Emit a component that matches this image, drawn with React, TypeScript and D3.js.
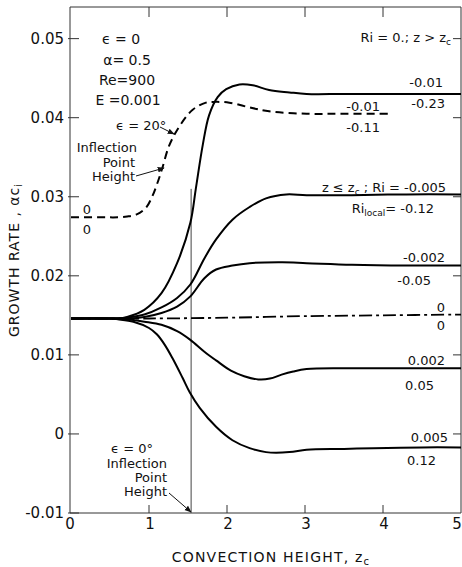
import React from "react";
import * as d3 from "d3";

// ---------- data ----------
const xTicks = [0, 1, 2, 3, 4, 5];
const yTicks = [-0.01, 0, 0.01, 0.02, 0.03, 0.04, 0.05];
const yTickLabels = ["-0.01", "0", "0.01", "0.02", "0.03", "0.04", "0.05"];

// Ri = -0.01 (Ri_local -0.23), solid
const riM010X = [0, 0.5, 0.6, 0.72, 0.94, 1.16, 1.36, 1.53, 1.6, 1.69, 1.77, 1.88, 1.99, 2.16, 2.33, 2.54, 2.8, 3.02, 3.5, 4.2, 5];
const riM010Y = [0.0146, 0.0146, 0.0146, 0.0148, 0.0157, 0.0178, 0.0216, 0.0267, 0.031, 0.0366, 0.0403, 0.0426, 0.0436, 0.0442, 0.0441, 0.0435, 0.0432, 0.043, 0.043, 0.043, 0.043];

// epsilon = 20 deg, Ri = -0.01 (Ri_local -0.11), dashed
const eps20X = [0, 0.4, 0.6, 0.72, 0.85, 0.96, 1.04, 1.11, 1.17, 1.26, 1.39, 1.56, 1.73, 1.85, 2.03, 2.29, 2.54, 3.02, 3.5, 4.09];
const eps20Y = [0.0274, 0.0274, 0.0274, 0.0275, 0.0278, 0.0286, 0.03, 0.0318, 0.0336, 0.0365, 0.0389, 0.041, 0.0419, 0.042, 0.0419, 0.0413, 0.0408, 0.0405, 0.0405, 0.0405];

// Ri = -0.005 (Ri_local -0.12), solid
const riM005X = [0, 0.5, 0.6, 0.72, 0.94, 1.16, 1.36, 1.53, 1.71, 1.86, 2.07, 2.29, 2.5, 2.76, 3.02, 3.6, 4.3, 5];
const riM005Y = [0.0146, 0.0146, 0.0146, 0.0147, 0.0151, 0.016, 0.0172, 0.0189, 0.0222, 0.0246, 0.0271, 0.0287, 0.0298, 0.0303, 0.0302, 0.0302, 0.0303, 0.0303];

// Ri = -0.002 (Ri_local -0.05), solid
const riM002X = [0, 0.5, 0.6, 0.72, 0.94, 1.16, 1.36, 1.53, 1.71, 1.86, 2.07, 2.29, 2.71, 3.02, 3.6, 4.3, 5];
const riM002Y = [0.0146, 0.0146, 0.0146, 0.0146, 0.0148, 0.0153, 0.0161, 0.0174, 0.0197, 0.0208, 0.0213, 0.0216, 0.0217, 0.0216, 0.0214, 0.0213, 0.0213];

// Ri = 0, dash-dot
const ri0X = [0, 1, 2, 2.5, 3, 4, 5];
const ri0Y = [0.0146, 0.0146, 0.0147, 0.0148, 0.0149, 0.015, 0.0151];

// Ri = 0.002 (Ri_local 0.05), solid
const riP002X = [0, 0.5, 0.6, 0.72, 0.94, 1.16, 1.36, 1.53, 1.71, 1.86, 2.05, 2.22, 2.4, 2.55, 2.7, 2.85, 3.02, 3.5, 4.3, 5];
const riP002Y = [0.0146, 0.0146, 0.0146, 0.0145, 0.0142, 0.0138, 0.013, 0.0119, 0.0104, 0.0093, 0.008, 0.0073, 0.0069, 0.007, 0.0075, 0.0079, 0.0082, 0.0083, 0.0083, 0.0083];

// Ri = 0.005 (Ri_local 0.12), solid
const riP005X = [0, 0.5, 0.6, 0.8, 1.0, 1.1, 1.2, 1.3, 1.43, 1.52, 1.65, 1.86, 2.07, 2.29, 2.5, 2.8, 3.02, 3.5, 3.88, 4.5, 5];
const riP005Y = [0.0146, 0.0146, 0.0145, 0.0142, 0.0134, 0.0126, 0.0113, 0.0096, 0.0071, 0.0053, 0.0033, 0.0009, -0.0008, -0.0018, -0.0023, -0.0023, -0.002, -0.0019, -0.0018, -0.0017, -0.0017];

// inflection point height (epsilon = 0)
const inflX = [1.54, 1.54];
const inflY = [0.031, -0.01];

const FONT = "'DejaVu Sans', sans-serif";

export default function App() {
  const W = 462;
  const H = 567;
  const x = d3.scaleLinear().domain([0, 5]).range([71, 461]);
  const y = d3.scaleLinear().domain([-0.01, 0.054]).range([513, 7]);

  const mk = (xs: number[], ys: number[]) =>
    d3
      .line<number>()
      .x((_, i) => x(xs[i]))
      .y((v) => y(v))
      .curve(d3.curveCatmullRom.alpha(0.5))(ys) as string;

  const series = [
    { xs: riM010X, ys: riM010Y, dash: undefined as string | undefined, w: 2 },
    { xs: eps20X, ys: eps20Y, dash: "8,5", w: 2 },
    { xs: riM005X, ys: riM005Y, dash: undefined, w: 2 },
    { xs: riM002X, ys: riM002Y, dash: undefined, w: 2 },
    { xs: ri0X, ys: ri0Y, dash: "13,4,3,4", w: 1.8 },
    { xs: riP002X, ys: riP002Y, dash: undefined, w: 2 },
    { xs: riP005X, ys: riP005Y, dash: undefined, w: 2 },
  ];

  const [x0, x1] = x.range();
  const [yB, yT] = y.range();
  const inner = [1, 2, 3, 4];

  const txt = { fontFamily: FONT, fontSize: 13, fill: "#111" } as const;

  return (
    <svg width={W} height={H} style={{ position: "absolute", left: 0, top: 0 }}>
      <rect width={W} height={H} fill="#fff" />
      <defs>
        <marker id="arr" viewBox="0 0 10 10" refX="9" refY="5" markerWidth="7" markerHeight="7" orient="auto">
          <path d="M0,1 L10,5 L0,9 z" fill="#111" />
        </marker>
      </defs>

      {/* frame */}
      <g stroke="#333" strokeWidth={1} fill="none">
        <line x1={x0 - 1} y1={yT} x2={x0 - 1} y2={yB} />
        <line x1={x0 - 1} y1={yT} x2={x1} y2={yT} />
        <line x1={x1} y1={yT} x2={x1} y2={yB} />
        <line x1={x0 - 1} y1={yB} x2={x1} y2={yB} />
        {yTicks.map((t) => (
          <line key={"l" + t} x1={x0 - 3} x2={x0 + 8} y1={y(t)} y2={y(t)} />
        ))}
        {yTicks.filter((t) => t > -0.01).map((t) => (
          <line key={"r" + t} x1={x1 - 8} x2={x1} y1={y(t)} y2={y(t)} />
        ))}
        {inner.map((t) => (
          <line key={"t" + t} x1={x(t)} x2={x(t)} y1={yT} y2={yT + 10} />
        ))}
        {inner.map((t) => (
          <line key={"b" + t} x1={x(t)} x2={x(t)} y1={yB} y2={yB - 8} />
        ))}
      </g>

      {/* tick labels */}
      <g style={{ fontFamily: FONT, fontSize: 15 }} fill="#111">
        {yTicks.map((t, i) => (
          <text key={t} x={x0 - 7} y={y(t) + 5} textAnchor="end">
            {yTickLabels[i]}
          </text>
        ))}
        {xTicks.map((t) => (
          <text
            key={t}
            x={x(t) + (t === 0 ? -1 : t === 5 ? -4 : 1)}
            y={yB + 16}
            textAnchor="middle"
          >
            {String(t)}
          </text>
        ))}
      </g>

      {/* axis titles */}
      <text x={271} y={562} textAnchor="middle" style={{ fontFamily: FONT, fontSize: 14, letterSpacing: 1.2 }} fill="#111">
        CONVECTION HEIGHT, z<tspan fontSize={10} dy={3}>c</tspan>
      </text>
      <text
        transform="translate(19,260) rotate(-90)"
        textAnchor="middle"
        style={{ fontFamily: FONT, fontSize: 14, letterSpacing: 1 }}
        fill="#111"
      >
        GROWTH RATE , αc<tspan fontSize={10} dy={3}>i</tspan>
      </text>

      {/* inflection line */}
      <line x1={x(inflX[0])} x2={x(inflX[1])} y1={y(inflY[0])} y2={y(inflY[1])} stroke="#444" strokeWidth={1} />

      {/* curves */}
      {series.map((s, i) => (
        <path key={i} d={mk(s.xs, s.ys)} fill="none" stroke="#000" strokeWidth={s.w} strokeDasharray={s.dash} />
      ))}

      {/* parameter block */}
      <g style={{ ...txt, fontSize: 14 }} fill="#111" textAnchor="middle">
        <text x={121} y={44}>ϵ = 0</text>
        <text x={127} y={65}>α= 0.5</text>
        <text x={127} y={85}>Re=900</text>
        <text x={128} y={105}>E =0.001</text>
      </g>

      {/* epsilon 20 annotations */}
      <g style={txt} fill="#111">
        <text x={116} y={130}>ϵ = 20°</text>
        <text x={137} y={152} textAnchor="end">Inflection</text>
        <text x={135} y={167} textAnchor="end">Point</text>
        <text x={135} y={181} textAnchor="end">Height</text>
        <text x={87} y={214} textAnchor="middle">0</text>
        <text x={87} y={234} textAnchor="middle">0</text>
      </g>
      <line x1={160} y1={127} x2={174} y2={134} stroke="#111" strokeWidth={1} markerEnd="url(#arr)" />
      <line x1={136} y1={176} x2={164} y2={168} stroke="#111" strokeWidth={1} markerEnd="url(#arr)" />

      {/* epsilon 0 annotations */}
      <g style={txt} fill="#111" textAnchor="end">
        <text x={153} y={453}>ϵ = 0°</text>
        <text x={167} y={468}>Inflection</text>
        <text x={167} y={482}>Point</text>
        <text x={167} y={496}>Height</text>
      </g>
      <line x1={169} y1={493} x2={191} y2={512} stroke="#111" strokeWidth={1} markerEnd="url(#arr)" />

      {/* right-side labels */}
      <g style={txt} fill="#111" textAnchor="end">
        <text x={451} y={42}>
          Ri = 0.; z &gt; z<tspan fontSize={9} dy={3}>c</tspan>
        </text>
        <text x={443} y={87}>-0.01</text>
        <text x={445} y={108}>-0.23</text>
        <text x={380} y={111}>-0.01</text>
        <text x={380} y={132}>-0.11</text>
        <text x={446} y={192}>
          z ≤ z<tspan fontSize={9} dy={3}>c</tspan>
          <tspan dy={-3}> ; Ri = -0.005</tspan>
        </text>
        <text x={434} y={213}>
          Ri<tspan fontSize={9} dy={3}>local</tspan>
          <tspan dy={-3}>= -0.12</tspan>
        </text>
        <text x={445} y={262}>-0.002</text>
        <text x={431} y={285}>-0.05</text>
        <text x={445} y={312}>0</text>
        <text x={445} y={330}>0</text>
        <text x={445} y={365}>0.002</text>
        <text x={434} y={390}>0.05</text>
        <text x={448} y={442}>0.005</text>
        <text x={436} y={465}>0.12</text>
      </g>
    </svg>
  );
}
